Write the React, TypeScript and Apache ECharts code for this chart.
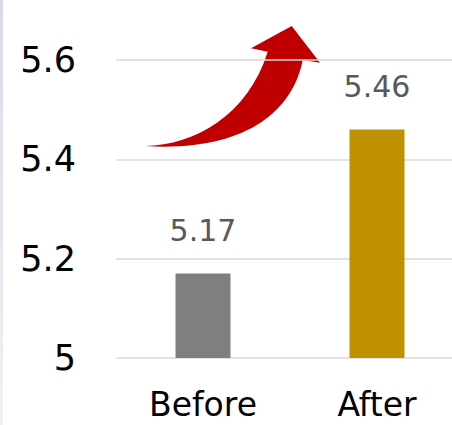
import React, { useEffect, useRef } from "react";
import * as echarts from "echarts";

const categories = ["Before", "After"];
const values = [5.17, 5.46];
const barColors = ["#7f7f7f", "#bf9000"];
const yMin = 5;
const yMax = 5.6;
const yInterval = 0.2;

const ARROW_D =
  "M145,146 C195,145 248,115 267.7,51.7 L251,48.3 L291.7,26 L320,62.7 L302.7,60 C292,115 240,152 145,146 Z";

let registered = false;

export default function App() {
  const ref = useRef<HTMLDivElement>(null);
  useEffect(() => {
    if (!registered) {
      echarts.graphic.registerShape("upArrow", echarts.graphic.extendPath(ARROW_D, {}));
      registered = true;
    }
    const chart = echarts.init(ref.current!, undefined, { renderer: "svg" });
    const font = "DejaVu Sans";
    chart.setOption({
      animation: false,
      backgroundColor: "#ffffff",
      grid: { left: 116, right: 0, top: 60, bottom: 67, containLabel: false },
      xAxis: {
        type: "category",
        data: categories,
        axisLine: { show: false },
        axisTick: { show: false },
        axisLabel: {
          fontSize: 33,
          lineHeight: 33,
          color: "#000000",
          fontFamily: font,
          margin: 30,
        },
      },
      yAxis: {
        type: "value",
        min: yMin,
        max: yMax,
        interval: yInterval,
        axisLine: { show: false },
        axisTick: { show: false },
        axisLabel: { fontSize: 35, color: "#000000", fontFamily: font, margin: 40 },
        splitLine: { lineStyle: { color: "#d9d9d9", width: 1.5 } },
      },
      series: [
        {
          type: "bar",
          barWidth: 55,
          data: values.map((v, i) => ({ value: v, itemStyle: { color: barColors[i] } })),
          label: {
            show: true,
            position: "top",
            distance: 28,
            fontSize: 30,
            color: "#595959",
            fontFamily: font,
          },
        },
      ],
      graphic: [
        {
          type: "rect",
          left: 0,
          top: 0,
          shape: { width: 3, height: 425 },
          style: {
            fill: new echarts.graphic.LinearGradient(0, 0, 0, 1, [
              { offset: 0, color: "#d6dbe6" },
              { offset: 1, color: "#eef2f7" },
            ]),
          },
          silent: true,
        },
        {
          type: "upArrow",
          x: 0,
          y: 0,
          style: { fill: "#c00000" },
          silent: true,
        },
      ],
    });
    return () => chart.dispose();
  }, []);
  return (
    <div
      style={{
        position: "absolute",
        left: 0,
        top: 0,
        width: 452,
        height: 425,
        overflow: "hidden",
      }}
    >
      <div ref={ref} style={{ width: 464, height: 425 }} />
    </div>
  );
}
